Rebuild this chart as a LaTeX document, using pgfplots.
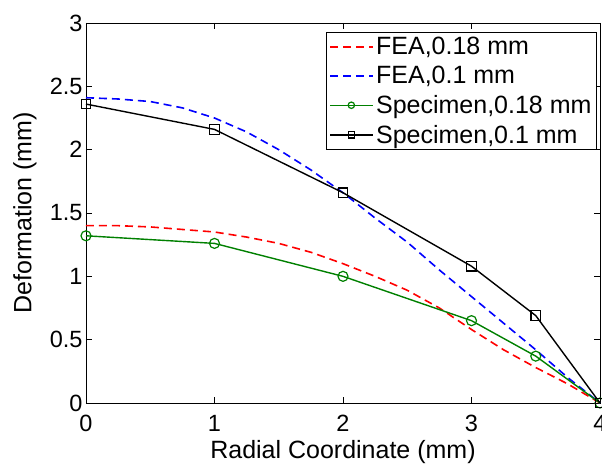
\documentclass[border=0pt]{standalone}
\usepackage{pgfplots}
\pgfplotsset{compat=1.18}
\usepackage{fontspec}
\setmainfont{Liberation Sans}
\usetikzlibrary{calc}
\definecolor{mgreen}{RGB}{0,128,0}
\newcommand{\fs}{\fontsize{23.5}{27}\selectfont}
\newcommand{\fl}{\fontsize{25}{29}\selectfont}
\begin{document}
\begin{tikzpicture}
\begin{axis}[
  name=ax,
  scale only axis,
  width=514pt, height=380pt,
  xmin=0, xmax=4, ymin=0, ymax=3,
  xtick={0,1,2,3,4}, ytick={0,0.5,1,1.5,2,2.5,3},
  /pgf/number format/assume math mode=true,
  tick label style={font=\fs},
  xticklabel style={yshift=-9pt},
  yticklabel style={/pgf/number format/fixed},
  tick align=inside,
  major tick length=6pt,
  axis line style={line width=0.8pt},
  every tick/.style={black, line width=0.8pt},
  xlabel={Radial Coordinate (mm)},
  ylabel={Deformation (mm)},
  xlabel style={font=\fl, at={([yshift=-55pt]axis description cs:0.5,0)}, anchor=base},
  ylabel style={font=\fl, at={([xshift=-61pt]axis description cs:0,0.5)}, anchor=center},
  legend style={font=\fl, at={(0.994,0.976)}, anchor=north east, draw=black, line width=0.8pt,
    cells={anchor=west}, inner xsep=3pt, inner ysep=3pt, row sep=6pt},
  legend image code/.code={\draw[mark repeat=2,mark phase=2,mark size=3.2pt] plot coordinates {(0pt,0pt) (21pt,0pt) (43pt,0pt)};},
  clip=false,
]
\addplot[red, dashed, line width=1.6pt, dash pattern=on 8pt off 5pt] coordinates {
(0,1.40) (0.25,1.40) (0.5,1.39) (0.75,1.37) (1,1.35) (1.25,1.31) (1.5,1.26) (1.75,1.19)
(2,1.10) (2.25,1.00) (2.5,0.89) (2.75,0.75) (3,0.58) (3.25,0.42) (3.5,0.28) (3.75,0.15) (4,0.0)};
\addlegendentry{FEA,0.18 mm}
\addplot[blue, dashed, line width=1.6pt, dash pattern=on 8pt off 5pt] coordinates {
(0,2.41) (0.25,2.40) (0.5,2.38) (0.75,2.33) (1,2.25) (1.25,2.14) (1.5,2.00) (1.75,1.84)
(2,1.66) (2.25,1.46) (2.5,1.27) (2.75,1.05) (3,0.84) (3.25,0.63) (3.5,0.42) (3.75,0.20) (4,0.0)};
\addlegendentry{FEA,0.1 mm}
\addplot[mgreen, line width=1.4pt, mark=o, mark size=5pt, mark options={solid, line width=1.2pt}] coordinates {
(0,1.32) (1,1.26) (2,1.00) (3,0.65) (3.5,0.37) (4,0.0)};
\addlegendentry{Specimen,0.18 mm}
\addplot[black, line width=1.4pt, mark=square, mark size=4.8pt, mark options={solid, line width=1.2pt}] coordinates {
(0,2.36) (1,2.16) (2,1.66) (3,1.08) (3.5,0.69) (4,0.0)};
\addlegendentry{Specimen,0.1 mm}
\end{axis}
\pgfresetboundingbox
\path ($(ax.south west)+(-86pt,-60pt)$) rectangle ($(ax.north east)+(2pt,23pt)$);
\end{tikzpicture}
\end{document}
